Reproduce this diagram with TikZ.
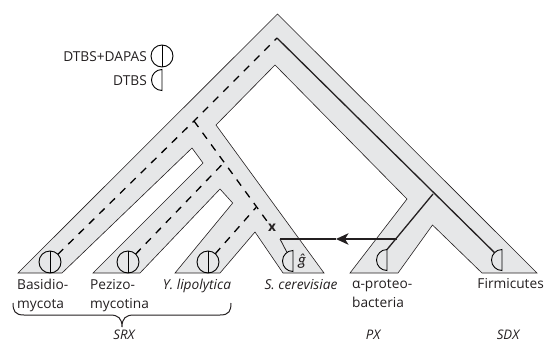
\documentclass[tikz,border=0pt]{standalone}
\usepackage{fontspec}
\setmainfont{Open Sans}
\newfontfamily\genefont[ItalicFont=Lato Italic]{Lato}
\usetikzlibrary{arrows.meta}
\definecolor{treegrey}{HTML}{E6E7E8}
\definecolor{inkgrey}{HTML}{231F20}
% half marker: only the left half of the node's circle is drawn
\newcommand{\halfmark}[3][10.5pt]{%
  \node[mark spot, minimum size=2*#1] (#2) at #3 {};
  \draw[mark line] (#2.north) arc[start angle=90, end angle=270, radius=#1] -- cycle;
}
\begin{document}
\begin{tikzpicture}[x=1pt, y=-1pt, font=\fontsize{13.7}{18.8}\selectfont, text=inkgrey]
    % Define styles
    \tikzset{
        mark spot/.style={circle, inner sep=0pt, outer sep=0pt},
        mark line/.style={draw=black, line width=0.9pt},
        full mark/.style={mark spot, mark line, minimum size=22pt, path picture={\draw[mark line] (path picture bounding box.north) -- (path picture bounding box.south);}},
        dash line/.style={draw=black, line width=1.3pt, dash pattern=on 7.5pt off 7pt},
        solid line/.style={draw=inkgrey, line width=1.3pt},
        taxon/.style={inner sep=0pt, align=left},
        clade/.style={inner sep=0pt, font=\fontsize{13.2}{16}\selectfont\itshape}
    }
    \useasboundingbox (0,0) rectangle (545,343);

    % Tree outline
    \draw[fill=treegrey, draw=inkgrey, line width=0.6pt] (277.5,14) -- (537,273) -- (482,273) -- (432.5,225) -- (398,273) -- (350,273) -- (407,199) -- (275,65) -- (216,125) -- (324,273) -- (283,273) -- (255,232) -- (220,273) -- (175,273) -- (232.7,203) -- (220,189) -- (140,273) -- (93,273) -- (203,163) -- (192,148) -- (62,273) -- (18,273) -- cycle;

    % Legend
    \node[full mark] (legendfull) at (162,56) {};
    \halfmark{legendhalf}{(162,80)}
    \node[anchor=base east, inner sep=0pt] (legendfulltext) at (147,61) {DTBS+DAPAS};
    \node[anchor=base east, inner sep=0pt] (legendhalftext) at (147,85) {DTBS};

    % Markers
    \node[full mark] (basidio) at (50,262) {};
    \node[full mark] (pezizo) at (128,262) {};
    \node[full mark] (yarrowia) at (208,262) {};
    \halfmark{scer}{(293,261)}
    \halfmark{proteo}{(387,260)}
    \halfmark{firmi}{(502,260)}

    % Branch points
    \coordinate (top) at (277,38);
    \coordinate (split) at (194,121);
    \coordinate (splitpezizo) at (224,162.5);
    \coordinate (splityarrowia) at (256,207.5);
    \coordinate (splitproteo) at (433,194);
    \coordinate (transferstart) at (397,239);
    \coordinate (transfermid) at (336,239);
    \coordinate (transferend) at (280,239);

    % Labels
    \node[font=\fontsize{13.7}{16}\selectfont\bfseries, inner sep=0pt] (loss) at (272,228) {x};
    \node[font=\fontsize{16}{18}\selectfont\genefont\itshape, inner sep=0pt] (gene) at (302,261) {ĝ};
    \node[taxon, anchor=base west] (basidiolabel) at (17,308) {Basidio-\\mycota};
    \node[taxon, anchor=base west] (pezizolabel) at (90,308) {Pezizo-\\mycotina};
    \node[taxon, anchor=base] (yarrowialabel) at (197,289) {\itshape Y. lipolytica};
    \node[taxon, anchor=base] (scerlabel) at (301,289) {\itshape S. cerevisiae};
    \node[taxon, anchor=base west] (proteolabel) at (352,307) {α-proteo-\\bacteria};
    \node[taxon, anchor=base east] (firmilabel) at (544,288) {Firmicutes};
    \node[clade, anchor=base] (srx) at (124,339) {SRX};
    \node[clade, anchor=base] (px) at (373,339) {PX};
    \node[clade, anchor=base] (sdx) at (508,339) {SDX};

    % Dashed lineages
    \draw[dash line] (basidio) -- (split) -- (top);
    \draw[dash line] (split) -- (loss);
    \draw[dash line] (pezizo) -- (splitpezizo);
    \draw[dash line] (yarrowia) -- (splityarrowia);

    % Solid lineages
    \draw[solid line] (top) -- (firmi);
    \draw[solid line] (splitproteo) -- (proteo.north);

    % Transfer arrow
    \draw[solid line, -{Stealth[length=12.5pt, width=11.5pt, inset=3.5pt]}] (transferstart) -- (transfermid);
    \draw[solid line] (transfermid) -- (transferend);
    \draw[draw=inkgrey, line width=0.8pt] (transferend) -- (scer.125);

    % Brace
    \coordinate (bracestart) at (13,303);
    \coordinate (bracetip) at (122,327);
    \coordinate (braceend) at (231,303);
    \draw[draw=inkgrey, line width=1pt] (bracestart) .. controls (13,311) and (15,315) .. (24,315) -- (110,315) .. controls (118,315) and (122,318) .. (bracetip) .. controls (122,318) and (126,315) .. (134,315) -- (220,315) .. controls (229,315) and (231,311) .. (braceend);
\end{tikzpicture}
\end{document}
